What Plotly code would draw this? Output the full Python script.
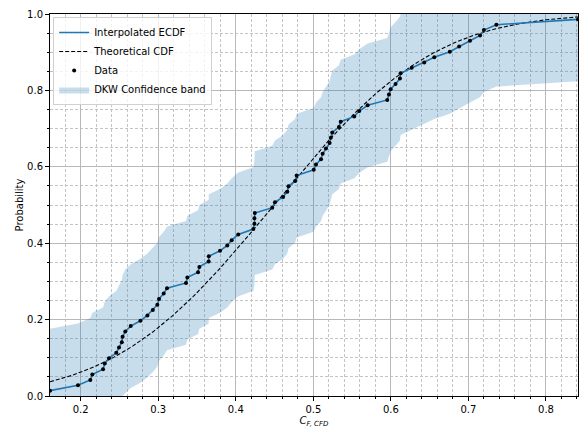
import math
import numpy as np
import plotly.graph_objects as go

# ---- data ----
data_x = [0.1604, 0.1965, 0.2124, 0.2150, 0.2288, 0.2310, 0.2365, 0.2459, 0.2494, 0.2530,
          0.2540, 0.2575, 0.2645, 0.2770, 0.2860, 0.2930, 0.2988, 0.3010, 0.3070, 0.3113,
          0.3358, 0.3375, 0.3513, 0.3530, 0.3650, 0.3652, 0.3797, 0.3890, 0.3947, 0.4032,
          0.4226, 0.4240, 0.4240, 0.4245, 0.4470, 0.4505, 0.4610, 0.4664, 0.4680, 0.4765,
          0.4785, 0.5005, 0.5034, 0.5099, 0.5120, 0.5163, 0.5210, 0.5225, 0.5244, 0.5330,
          0.5353, 0.5528, 0.5592, 0.5700, 0.5953, 0.5975, 0.5997, 0.6060, 0.6117, 0.6125,
          0.6268, 0.6430, 0.6560, 0.6760, 0.6880, 0.7020, 0.7150, 0.7200, 0.7360, 0.8413]
ecdf_y = [0.014, 0.028, 0.042, 0.056, 0.070, 0.085, 0.099, 0.113, 0.127, 0.141,
          0.155, 0.169, 0.183, 0.197, 0.211, 0.225, 0.239, 0.254, 0.268, 0.282,
          0.296, 0.310, 0.324, 0.338, 0.352, 0.366, 0.380, 0.394, 0.408, 0.423,
          0.437, 0.451, 0.465, 0.479, 0.493, 0.507, 0.521, 0.535, 0.549, 0.563,
          0.577, 0.592, 0.606, 0.620, 0.634, 0.648, 0.662, 0.676, 0.690, 0.704,
          0.718, 0.732, 0.746, 0.761, 0.775, 0.789, 0.803, 0.817, 0.831, 0.845,
          0.859, 0.873, 0.887, 0.901, 0.915, 0.930, 0.944, 0.958, 0.972, 0.986]
dkw_eps = 0.162          # half-width of the DKW band
theo_mu = 0.449          # theoretical (normal) CDF parameters
theo_sigma = 0.162
x_ticks = [0.2, 0.3, 0.4, 0.5, 0.6, 0.7, 0.8]
y_ticks = [0.0, 0.2, 0.4, 0.6, 0.8, 1.0]

# ---- derived ----
ex = np.array(data_x)
ey = np.array(ecdf_y)
band_lo = np.clip(ey - dkw_eps, 0, 1)
band_hi = np.clip(ey + dkw_eps, 0, 1)
tx = np.linspace(ex.min(), ex.max(), 300)
ty = [0.5 * (1 + math.erf((v - theo_mu) / (theo_sigma * math.sqrt(2)))) for v in tx]

BLUE = "#1f77b4"
FONT = "DejaVu Sans"

fig = go.Figure()
fig.add_trace(go.Scatter(x=ex, y=band_lo, mode="lines", line=dict(width=0),
                         showlegend=False, hoverinfo="skip"))
fig.add_trace(go.Scatter(x=ex, y=band_hi, mode="lines", line=dict(width=0),
                         fill="tonexty", fillcolor="rgba(31,119,180,0.25)",
                         name="DKW Confidence band", legendrank=4))
fig.add_trace(go.Scatter(x=tx, y=ty, mode="lines",
                         line=dict(color="black", width=1.1, dash="4px,2px"),
                         name="Theoretical CDF", legendrank=2))
fig.add_trace(go.Scatter(x=ex, y=ey, mode="lines", line=dict(color=BLUE, width=1.6),
                         name="Interpolated ECDF", legendrank=1))
fig.add_trace(go.Scatter(x=ex, y=ey, mode="markers",
                         marker=dict(color="black", size=4), name="Data", legendrank=3))

axis_common = dict(
    showline=True, linecolor="black", linewidth=1, mirror=True,
    ticks="outside", ticklen=4, tickcolor="black", tickwidth=1,
    showgrid=True, gridcolor="#b8b8b8", gridwidth=1.3,
    zeroline=False, tickformat=".1f",
    tickfont=dict(family=FONT, size=10, color="black"),
)

fig.update_xaxes(
    range=[ex.min(), ex.max()], tickvals=x_ticks,
    minor=dict(dtick=0.02, tick0=0.2, showgrid=True, gridcolor="#c4c4c4", gridwidth=0.8,
               griddash="3px,2px", ticks="outside", ticklen=2, tickcolor="black"),
    title=dict(text="<i>C</i><sub><i>F, CFD</i></sub>", font=dict(family=FONT, size=10, color="black"),
               standoff=4),
    **axis_common)
fig.update_yaxes(
    range=[0, 1], tickvals=y_ticks,
    minor=dict(dtick=0.05, tick0=0, showgrid=True, gridcolor="#c4c4c4", gridwidth=0.8,
               griddash="3px,2px", ticks="outside", ticklen=2, tickcolor="black"),
    title=dict(text="Probability", font=dict(family=FONT, size=10, color="black"), standoff=1),
    **axis_common)

fig.update_layout(
    width=580, height=428,
    margin=dict(l=50, r=2, t=14, b=32),
    paper_bgcolor="white", plot_bgcolor="white",
    font=dict(family=FONT, size=10, color="black"),
    legend=dict(x=0.006, y=0.992, xanchor="left", yanchor="top", traceorder="normal",
                bgcolor="rgba(255,255,255,0.8)", bordercolor="#d0d0d0", borderwidth=1,
                font=dict(family=FONT, size=10), tracegroupgap=0),
)

fig.write_html("out.html")
